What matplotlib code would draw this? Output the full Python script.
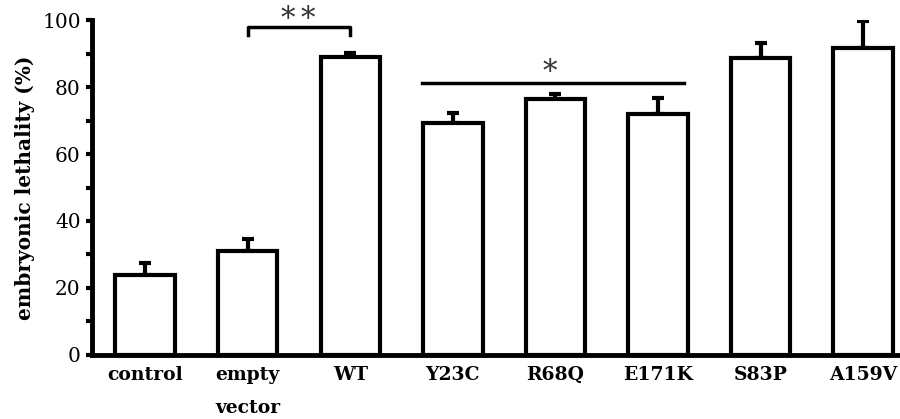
import matplotlib
matplotlib.use("Agg")
import matplotlib.pyplot as plt
from matplotlib.ticker import MultipleLocator

plt.rcParams['font.family'] = ['DejaVu Serif']
plt.rcParams['font.weight'] = 'bold'

categories = ["control", "empty\nvector", "WT", "Y23C", "R68Q", "E171K", "S83P", "A159V"]
lethality = [24.0, 31.0, 89.0, 69.2, 76.3, 71.9, 88.6, 91.7]
sem = [3.5, 3.5, 1.2, 3.0, 1.5, 4.7, 4.6, 8.0]

fig = plt.figure(figsize=(9, 4.19), dpi=100)
ax = fig.add_axes([0.102, 0.153, 0.898, 0.799])

x = list(range(len(categories)))
ax.errorbar(x, lethality, yerr=[[0] * len(sem), sem], fmt='none', ecolor='black',
            elinewidth=3, capsize=4.5, capthick=3, zorder=2)
ax.bar(x, lethality, width=0.58, color='white', edgecolor='black', linewidth=3, zorder=3)

ax.set_ylim(0, 100)
ax.set_xlim(-0.52, 7.36)
ax.yaxis.set_major_locator(MultipleLocator(20))
ax.yaxis.set_minor_locator(MultipleLocator(10))
ax.set_xticks(x)
ax.set_xticklabels(categories, fontsize=13.5, fontweight='bold', linespacing=2.1)
ax.tick_params(axis='x', length=0, pad=8)
ax.tick_params(axis='y', which='major', direction='out', length=4, width=3, labelsize=14.5, pad=4)
ax.tick_params(axis='y', which='minor', direction='out', length=4, width=3)
for lbl in ax.get_yticklabels():
    lbl.set_fontweight('normal')

for side in ['top', 'right']:
    ax.spines[side].set_visible(False)
for side in ['left', 'bottom']:
    ax.spines[side].set_linewidth(3.5)

ax.set_ylabel("embryonic lethality (%)", fontsize=14.5, fontweight='bold', labelpad=5)

star_style = dict(ha='center', va='baseline', fontsize=21, fontweight='normal',
                  color='#333333', clip_on=False)

# significance: empty vector vs WT
ax.plot([1, 1, 2, 2], [95.5, 98, 98, 95.5], color='black', lw=2.5, clip_on=False, zorder=4)
ax.text(1.39, 97.9, "*", **star_style)
ax.text(1.59, 97.9, "*", **star_style)

# significance: point mutants Y23C–E171K
ax.plot([2.7, 5.25], [81.3, 81.3], color='black', lw=2.5, clip_on=False, zorder=4)
ax.text(3.95, 82.1, "*", **star_style)

fig.savefig("out.png", dpi=100)
